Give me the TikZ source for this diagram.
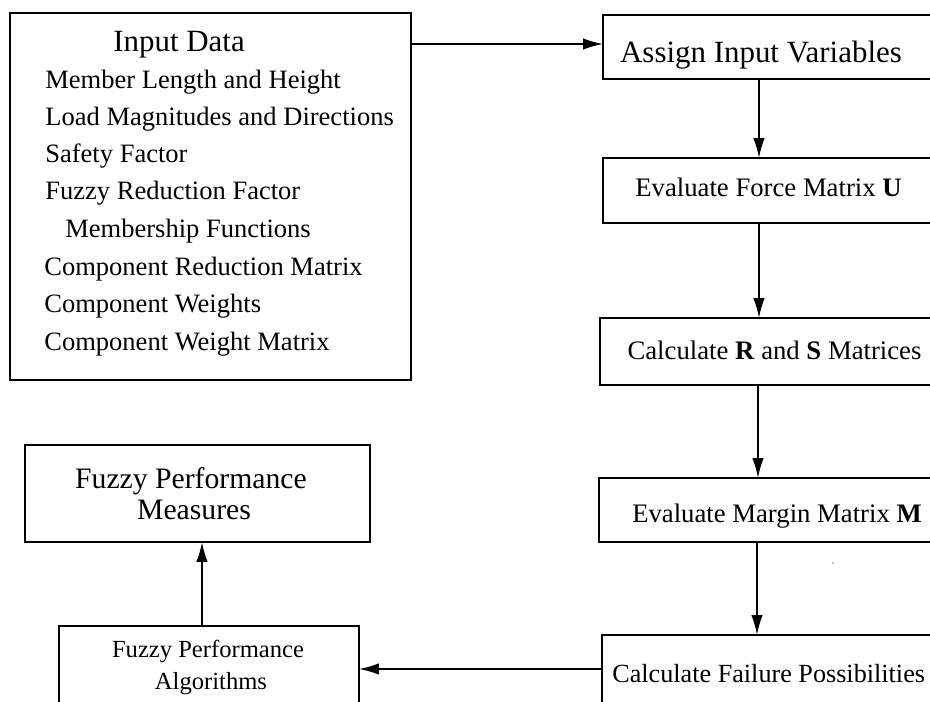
\documentclass[tikz,border=0pt]{standalone}
\usepackage{fontspec}
\setmainfont{Liberation Serif}
\usetikzlibrary{arrows.meta}
\begin{document}
\begin{tikzpicture}[x=0.02cm,y=-0.02cm,
  box/.style={draw, line width=1.4pt, inner sep=0pt, outer sep=0pt},
  flow/.style={line width=1pt, -{Latex[length=0.4cm,width=0.23cm]}},
  txt/.style={inner sep=0pt, anchor=base west, font=\fontsize{15.1}{18}\selectfont},
  ctxt/.style={inner sep=0pt, anchor=base},
  big/.style={font=\fontsize{17.6}{21}\selectfont},
  mid/.style={font=\fontsize{15.2}{18}\selectfont}]
\useasboundingbox (0,0) rectangle (930,702);
\clip (0,0) rectangle (930,702);

% input data block
\node[box, minimum width=8.02cm, minimum height=7.34cm] (input) at (210.5,196.5) {};
\node[txt, big] (title) at (113,52) {Input Data};
\node[txt] (l1) at (45,89)  {Member Length and Height};
\node[txt] (l2) at (45,126) {Load Magnitudes and Directions};
\node[txt] (l3) at (45,163) {Safety Factor};
\node[txt] (l4) at (45,200) {Fuzzy Reduction Factor};
\node[txt] (l5) at (65,238) {Membership Functions};
\node[txt] (l6) at (44,276) {Component Reduction Matrix};
\node[txt] (l7) at (44,313) {Component Weights};
\node[txt] (l8) at (44,351) {Component Weight Matrix};

% right-hand processing chain
\node[box, minimum width=7.14cm, minimum height=1.28cm] (assign) at (781.5,47) {};
\node[ctxt, big] (assignT) at (761,63) {Assign Input Variables};

\node[box, minimum width=7.14cm, minimum height=1.30cm] (force) at (781.5,190.5) {};
\node[ctxt, mid] (forceT) at (768.5,197) {Evaluate Force Matrix \textbf{U}};

\node[box, minimum width=7.20cm, minimum height=1.34cm] (rs) at (780,351.5) {};
\node[ctxt, mid] (rsT) at (774.5,360) {Calculate \textbf{R} and \textbf{S} Matrices};

\node[box, minimum width=7.22cm, minimum height=1.28cm] (margin) at (779.5,510) {};
\node[ctxt, mid] (marginT) at (777,522) {Evaluate Margin Matrix \textbf{M}};

\node[box, minimum width=7.16cm, minimum height=2.10cm] (fail) at (781,687.5) {};
\node[txt, font=\fontsize{14.9}{18}\selectfont] (failT) at (612,682) {Calculate Failure Possibilities};

% left-hand output blocks
\node[box, minimum width=6.90cm, minimum height=1.94cm] (meas) at (197.5,493.5) {};
\node[ctxt, font=\fontsize{16.9}{20}\selectfont] (measA) at (191,488) {Fuzzy Performance};
\node[ctxt, font=\fontsize{16.9}{20}\selectfont] (measB) at (194,520) {Measures};

\node[box, minimum width=6.00cm, minimum height=2.28cm] (algo) at (209,683) {};
\node[ctxt, font=\fontsize{14}{17}\selectfont] (algoA) at (208,657) {Fuzzy Performance};
\node[ctxt, font=\fontsize{14}{17}\selectfont] (algoB) at (211,689) {Algorithms};

% connector guides
\coordinate (ay) at (0,44);
\coordinate (ax) at (759,0);
\coordinate (by) at (0,669);
\coordinate (bx) at (202,0);

\draw[flow] (input.east |- ay) -- (assign.west |- ay);
\draw[flow] (assign.south -| ax) -- (force.north -| ax);
\draw[flow] (force.south -| ax) -- (rs.north -| ax);
\draw[flow] ([xshift=-0.02cm]rs.south -| ax) -- ([xshift=-0.02cm]margin.north -| ax);
\draw[flow] ([xshift=-0.04cm]margin.south -| ax) -- ([xshift=-0.04cm]fail.north -| ax);
\draw[flow] (fail.west |- by) -- (algo.east |- by);
\draw[flow] (algo.north -| bx) -- (meas.south -| bx);

% small speck
\fill (833,563) circle (0.014cm);
\end{tikzpicture}
\end{document}
